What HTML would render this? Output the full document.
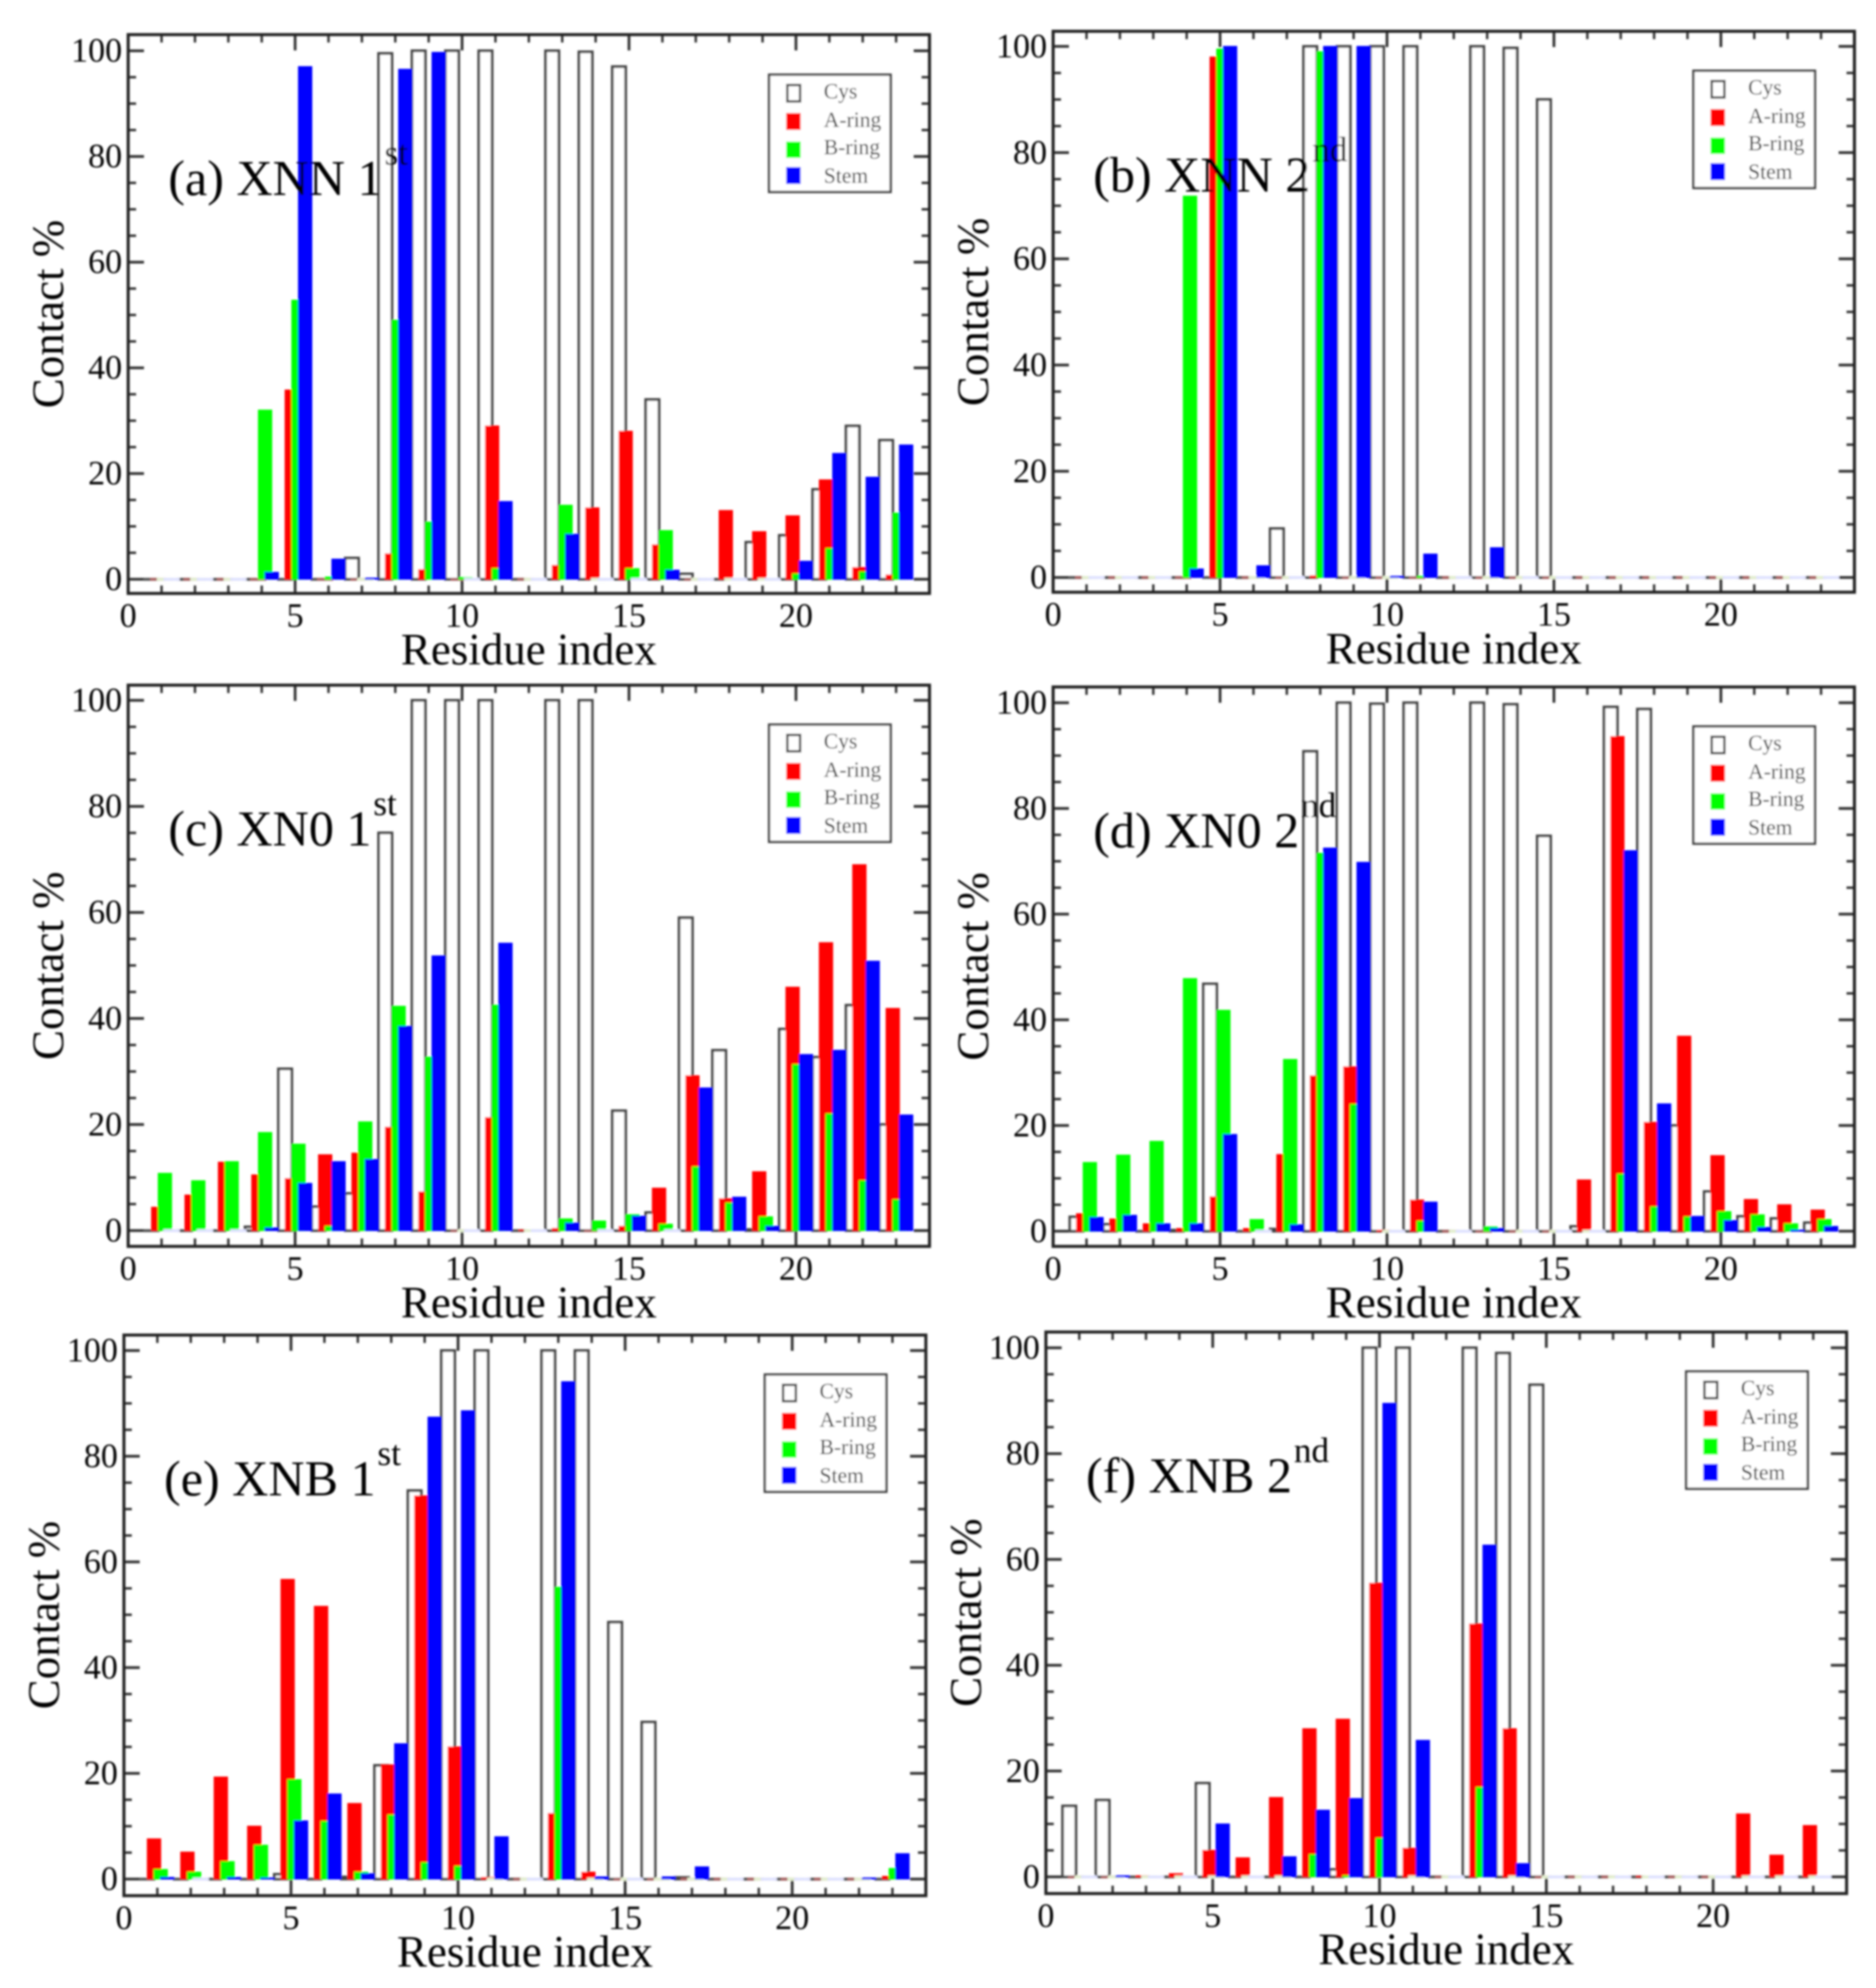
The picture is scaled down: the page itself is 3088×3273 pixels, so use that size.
<!DOCTYPE html>
<html lang="en">
<head>
<meta charset="utf-8">
<title>Contact percentage by residue index</title>
<style>
html,body{margin:0;padding:0;background:#fff;}
svg{display:block;}
text{font-family:"Liberation Serif",serif;fill:#000;}
.title{font-size:82.5px;}
.sup{font-size:58px;}
.axis-title{font-size:74px;text-anchor:middle;}
.tick-label{font-size:56px;}
.legend-label{font-size:35.5px;fill:#111;}
.frame{fill:none;stroke:#222;stroke-width:5;}
.legend-box{fill:#fff;stroke:#444;stroke-width:4;}
</style>
</head>
<body>
<svg id="chart" xmlns="http://www.w3.org/2000/svg" width="3088" height="3273" viewBox="0 0 3088 3273">
<defs><filter id="soft" x="-1%" y="-1%" width="102%" height="102%"><feGaussianBlur stdDeviation="1.6"/></filter></defs>
<rect x="0" y="0" width="3088" height="3273" fill="#fff"/>
<g filter="url(#soft)">

<g id="panel-a" transform="translate(211,57)">
 <g id="marks-a"></g>
 <rect class="frame" x="0" y="0" width="1319" height="920"/>
 <text class="axis-title" transform="translate(-107,460) rotate(-90)">Contact %</text>
 <text class="axis-title" x="659.5" y="1037">Residue index</text>
 <g transform="translate(1055,66)">
  <rect class="legend-box" x="0" y="0" width="200" height="193"/>
  <rect x="30" y="17" width="21" height="27" fill="#fff" stroke="#444" stroke-width="4"/>
  <rect x="28" y="63" width="24" height="28" fill="#f00"/>
  <rect x="28" y="110" width="24" height="27" fill="#0f0"/>
  <rect x="28" y="152" width="24" height="28" fill="#00f"/>
  <text class="legend-label" x="90" y="39">Cys</text>
  <text class="legend-label" x="90" y="86">A-ring</text>
  <text class="legend-label" x="90" y="131">B-ring</text>
  <text class="legend-label" x="90" y="178">Stem</text>
 </g>
 <text class="title" x="66" y="264">(a) XNN 1<tspan class="sup" dx="3" dy="-50">st</tspan></text>
</g>

<g id="panel-b" transform="translate(1733.5,51.5)">
 <g id="marks-b"></g>
 <rect class="frame" x="0" y="0" width="1319" height="923.5"/>
 <text class="axis-title" transform="translate(-107,462) rotate(-90)">Contact %</text>
 <text class="axis-title" x="659.5" y="1041">Residue index</text>
 <g transform="translate(1054,65)">
  <rect class="legend-box" x="0" y="0" width="200" height="193"/>
  <rect x="30" y="17" width="21" height="27" fill="#fff" stroke="#444" stroke-width="4"/>
  <rect x="28" y="63" width="24" height="28" fill="#f00"/>
  <rect x="28" y="110" width="24" height="27" fill="#0f0"/>
  <rect x="28" y="152" width="24" height="28" fill="#00f"/>
  <text class="legend-label" x="90" y="39">Cys</text>
  <text class="legend-label" x="90" y="86">A-ring</text>
  <text class="legend-label" x="90" y="131">B-ring</text>
  <text class="legend-label" x="90" y="178">Stem</text>
 </g>
 <text class="title" x="66" y="264">(b) XNN 2<tspan class="sup" dx="3" dy="-50">nd</tspan></text>
</g>

<g id="panel-c" transform="translate(211,1128)">
 <g id="marks-c"></g>
 <rect class="frame" x="0" y="0" width="1319" height="924"/>
 <text class="axis-title" transform="translate(-107,462) rotate(-90)">Contact %</text>
 <text class="axis-title" x="659.5" y="1041">Residue index</text>
 <g transform="translate(1055,65)">
  <rect class="legend-box" x="0" y="0" width="200" height="193"/>
  <rect x="30" y="17" width="21" height="27" fill="#fff" stroke="#444" stroke-width="4"/>
  <rect x="28" y="63" width="24" height="28" fill="#f00"/>
  <rect x="28" y="110" width="24" height="27" fill="#0f0"/>
  <rect x="28" y="152" width="24" height="28" fill="#00f"/>
  <text class="legend-label" x="90" y="39">Cys</text>
  <text class="legend-label" x="90" y="86">A-ring</text>
  <text class="legend-label" x="90" y="131">B-ring</text>
  <text class="legend-label" x="90" y="178">Stem</text>
 </g>
 <text class="title" x="66" y="264">(c) XN0 1<tspan class="sup" dx="3" dy="-50">st</tspan></text>
</g>

<g id="panel-d" transform="translate(1733.5,1131)">
 <g id="marks-d"></g>
 <rect class="frame" x="0" y="0" width="1319" height="921"/>
 <text class="axis-title" transform="translate(-107,460) rotate(-90)">Contact %</text>
 <text class="axis-title" x="659.5" y="1038">Residue index</text>
 <g transform="translate(1054,65)">
  <rect class="legend-box" x="0" y="0" width="200" height="193"/>
  <rect x="30" y="17" width="21" height="27" fill="#fff" stroke="#444" stroke-width="4"/>
  <rect x="28" y="63" width="24" height="28" fill="#f00"/>
  <rect x="28" y="110" width="24" height="27" fill="#0f0"/>
  <rect x="28" y="152" width="24" height="28" fill="#00f"/>
  <text class="legend-label" x="90" y="39">Cys</text>
  <text class="legend-label" x="90" y="86">A-ring</text>
  <text class="legend-label" x="90" y="131">B-ring</text>
  <text class="legend-label" x="90" y="178">Stem</text>
 </g>
 <text class="title" x="66" y="264">(d) XN0 2<tspan class="sup" dx="3" dy="-50">nd</tspan></text>
</g>

<g id="panel-e" transform="translate(204,2198)">
 <g id="marks-e"></g>
 <rect class="frame" x="0" y="0" width="1320" height="923"/>
 <text class="axis-title" transform="translate(-107,461) rotate(-90)">Contact %</text>
 <text class="axis-title" x="660" y="1040">Residue index</text>
 <g transform="translate(1055,65)">
  <rect class="legend-box" x="0" y="0" width="200" height="193"/>
  <rect x="30" y="17" width="21" height="27" fill="#fff" stroke="#444" stroke-width="4"/>
  <rect x="28" y="63" width="24" height="28" fill="#f00"/>
  <rect x="28" y="110" width="24" height="27" fill="#0f0"/>
  <rect x="28" y="152" width="24" height="28" fill="#00f"/>
  <text class="legend-label" x="90" y="39">Cys</text>
  <text class="legend-label" x="90" y="86">A-ring</text>
  <text class="legend-label" x="90" y="131">B-ring</text>
  <text class="legend-label" x="90" y="178">Stem</text>
 </g>
 <text class="title" x="66" y="264">(e) XNB 1<tspan class="sup" dx="3" dy="-50">st</tspan></text>
</g>

<g id="panel-f" transform="translate(1721.6,2193)">
 <g id="marks-f"></g>
 <rect class="frame" x="0" y="0" width="1318" height="924.5"/>
 <text class="axis-title" transform="translate(-107,462) rotate(-90)">Contact %</text>
 <text class="axis-title" x="659" y="1041">Residue index</text>
 <g transform="translate(1054,65)">
  <rect class="legend-box" x="0" y="0" width="200" height="193"/>
  <rect x="30" y="17" width="21" height="27" fill="#fff" stroke="#444" stroke-width="4"/>
  <rect x="28" y="63" width="24" height="28" fill="#f00"/>
  <rect x="28" y="110" width="24" height="27" fill="#0f0"/>
  <rect x="28" y="152" width="24" height="28" fill="#00f"/>
  <text class="legend-label" x="90" y="39">Cys</text>
  <text class="legend-label" x="90" y="86">A-ring</text>
  <text class="legend-label" x="90" y="131">B-ring</text>
  <text class="legend-label" x="90" y="178">Stem</text>
 </g>
 <text class="title" x="66" y="264">(f) XNB 2<tspan class="sup" dx="3" dy="-50">nd</tspan></text>
</g>

</g>
</svg>
<script>
const residues = [1,2,3,4,5,6,7,8,9,10,11,12,13,14,15,16,17,18,19,20,21,22,23];
const xTickLabels = [0,5,10,15,20];
const yTickLabels = [0,20,40,60,80,100];
const xMinorTicks = [0,1,2,3,4,5,6,7,8,9,10,11,12,13,14,15,16,17,18,19,20,21,22,23,24];
const yMinorTicks = [0,5,10,15,20,25,30,35,40,45,50,55,60,65,70,75,80,85,90,95,100];

// residue:              1    2    3    4    5    6    7    8    9    10   11   12   13   14   15   16   17   18   19   20   21   22   23
const aCys   = [0,0,0,0,0,0,4,99.5,100,100,100,0,100,99.8,97,34,1,0,7,8.3,17,29,26.3];
const aARing = [0,0,0,0,35.8,0,0,4.8,1.8,0,29,0,2.6,13.5,28,6.5,0,13,9,12,18.8,2.2,0.8];
const aBRing = [0,0,0,32,52.8,0.4,0,49,10.8,0.3,2,0,14,0,2,9.2,0,0,0,1,5.8,1.4,12.5];
const aStem  = [0,0,0,1.3,97,3.8,0.2,96.5,99.7,0,14.7,0,8.5,0,0,1.7,0,0,0,3.4,23.8,19.3,25.4];

const bCys   = [0,0,0,0,0,0,9.2,100,100,100,100,0,100,99.7,90,0,0,0,0,0,0,0,0];
const bARing = [0,0,0,0,98,0,0,0.3,0,0,0,0,0,0,0,0,0,0,0,0,0,0,0];
const bBRing = [0,0,0,71.8,99.5,0,0,99,0,0,0.2,0,0,0,0,0,0,0,0,0,0,0,0];
const bStem  = [0,0,0,1.6,100,2.2,0,100,100,0.2,4.4,0,5.6,0,0,0,0,0,0,0,0,0,0];

const cCys   = [0,0,0,0.7,30.5,4.5,7,75,100,100,100,0,100,100,22.6,3.4,59,34,0.2,38,32.7,42.5,20];
const cARing = [4.4,6.7,12.9,10.5,9.8,14.3,14.6,19.5,7.3,0,21.3,0.1,0.4,0,0.8,8,29.2,6,11.1,45.9,54.3,69,41.9];
const cBRing = [10.8,9.4,13,18.5,16.3,0.8,20.5,42.3,32.7,0,42.5,0,2.2,1.8,3,1.2,12,5.2,2.6,31.3,22,9.4,5.8];
const cStem  = [0,0,0,0.5,8.9,13,13.4,38.5,51.8,0,54.2,0,1.4,0,2.7,0,26.9,6.3,0.8,33.2,34,50.8,21.8];

const dCys   = [2.7,1.3,0,0.2,46.8,0,0.4,90.8,100,99.8,100,0,100,99.7,74.8,0.9,99.2,98.8,20,7.5,2.8,2.4,1.6];
const dARing = [3.3,2.3,1.4,0.5,6.5,0.5,14.5,29.4,31.1,0.2,5.9,0,0,0,0,9.7,93.6,20.6,36.9,14.3,6,5,4];
const dBRing = [13,14.4,17,47.8,41.8,2.2,32.5,71.5,24,0,1.9,0,0.8,0,0,0,10.8,4.6,2.7,3.7,3.1,1.4,2.2];
const dStem  = [2.6,3,1.4,1.4,18.3,0,1.2,72.5,69.8,0,5.5,0,0.5,0,0,0,72,24.1,2.8,2,0.7,0.2,0.9];

const eCys   = [0,0,0,0,0.9,0,0.4,21.5,73.5,100,100,0,100,100,48.6,29.7,0.3,0,0,0,0,0,0];
const eARing = [7.6,5.1,19.3,10,56.7,51.6,14.3,21.6,72.5,25,0.3,0,12.4,1.3,0,0,0,0,0,0,0,0,0.5];
const eBRing = [1.8,1.3,3.3,6.4,18.8,10.9,1.3,12.1,3.1,2.4,0,0,55.2,0,0,0,0,0,0,0,0,0,2];
const eStem  = [0.3,0,0.3,0.2,11,16.1,1,25.6,87.4,88.6,8,0,94.1,0.4,0,0.4,2.3,0,0,0,0,0.2,4.8];

const fCys   = [13.4,14.5,0,0,17.7,0,0,0,1.4,100,100,0,100,99,93,0,0,0,0,0,0,0,0];
const fARing = [0,0,0.2,0.6,5,3.6,15,28,29.8,55.5,5.4,0,47.8,28,0,0,0,0.1,0,0,11.9,4.1,9.7];
const fBRing = [0,0,0,0,0,0,0,4.2,0.2,7.3,0,0,16.9,0,0,0,0,0,0,0,0,0,0];
const fStem  = [0,0.2,0,0,10,0,3.8,12.6,14.8,89.5,25.8,0,62.7,2.5,0,0,0,0,0,0,0,0,0];

const seriesNames = ['cys','a-ring','b-ring','stem'];

const panels = [
  {id:'a', width:1319, height:920,   y100:26.6, y0:896.6, series:[aCys,aARing,aBRing,aStem]},
  {id:'b', width:1319, height:923.5, y100:24.9, y0:899.2, series:[bCys,bARing,bBRing,bStem]},
  {id:'c', width:1319, height:924,   y100:25,   y0:898,   series:[cCys,cARing,cBRing,cStem]},
  {id:'d', width:1319, height:921,   y100:26,   y0:896,   series:[dCys,dARing,dBRing,dStem]},
  {id:'e', width:1320, height:923,   y100:25.5, y0:895.6, series:[eCys,eARing,eBRing,eStem]},
  {id:'f', width:1318, height:924.5, y100:26,   y0:897,   series:[fCys,fARing,fBRing,fStem]}
];

const SVG_NS = 'http://www.w3.org/2000/svg';
const X_MAX = 24;
const BAR_WIDTH = 0.4;
const BAR_OFFSETS = [-0.3,-0.1,0.1,0.3];
const BAR_FILLS = ['#fff','#f00','#0f0','#00f'];
const BAR_STROKES = ['#444','#f00','#0f0','#00f'];
const BAR_STROKE_WIDTHS = [4.5,1.5,1.5,1.5];
const ZERO_STROKES = ['#555','#a86464','#e2efcf','#dfe2ff'];
const ZERO_STROKE_WIDTH = 4.5;

function xScale(p, v) { return v / X_MAX * p.width; }
function yScale(p, v) { return p.y0 - v * (p.y0 - p.y100) / 100; }

function tickLine(parent, x1, y1, x2, y2, major) {
  const el = document.createElementNS(SVG_NS, 'line');
  
  
  el.setAttribute('x1', x1);
  el.setAttribute('y1', y1);
  el.setAttribute('x2', x2);
  el.setAttribute('y2', y2);
  el.setAttribute('stroke', '#333');
  el.setAttribute('stroke-width', major ? 4.5 : 4);
  parent.appendChild(el);
}

function tickText(parent, x, y, anchor, value, name) {
  const el = document.createElementNS(SVG_NS, 'text');
  
  
  el.setAttribute('class', 'tick-label');
  el.setAttribute('x', x);
  el.setAttribute('y', y);
  el.setAttribute('text-anchor', anchor);
  el.textContent = String(value);
  parent.appendChild(el);
}

function drawPanel(p) {
  const marks = document.getElementById('marks-' + p.id);
  const MAJOR = 26, MINOR = 13;

  xMinorTicks.forEach(function (v) {
    const major = xTickLabels.indexOf(v) >= 0;
    const len = major ? MAJOR : MINOR;
    const x = xScale(p, v);
    tickLine(marks, x, p.height, x, p.height - len, major);
    tickLine(marks, x, 0, x, len, major);
  });
  yMinorTicks.forEach(function (v) {
    const major = yTickLabels.indexOf(v) >= 0;
    const len = major ? MAJOR : MINOR;
    const y = yScale(p, v);
    tickLine(marks, 0, y, len, y, major);
    tickLine(marks, p.width, y, p.width - len, y, major);
  });
  xTickLabels.forEach(function (v) {
    tickText(marks, xScale(p, v), p.height + 55, 'middle', v, 'x-tick-label');
  });
  yTickLabels.forEach(function (v) {
    tickText(marks, -10, yScale(p, v) + 18, 'end', v, 'y-tick-label');
  });

  p.series.forEach(function (values, s) {
    residues.forEach(function (res, k) {
      const v = values[k];
      const left = xScale(p, res + BAR_OFFSETS[s] - BAR_WIDTH / 2);
      const top = yScale(p, v);
      const bar = document.createElementNS(SVG_NS, 'rect');
      
      
      bar.setAttribute('x', left);
      bar.setAttribute('y', top);
      bar.setAttribute('width', xScale(p, BAR_WIDTH));
      bar.setAttribute('height', Math.max(p.y0 - top, 0.3));
      bar.setAttribute('fill', BAR_FILLS[s]);
      bar.setAttribute('stroke', v === 0 ? ZERO_STROKES[s] : BAR_STROKES[s]);
      bar.setAttribute('stroke-width', v === 0 ? ZERO_STROKE_WIDTH : BAR_STROKE_WIDTHS[s]);
      marks.appendChild(bar);
    });
  });
}

panels.forEach(drawPanel);
</script>
</body>
</html>
